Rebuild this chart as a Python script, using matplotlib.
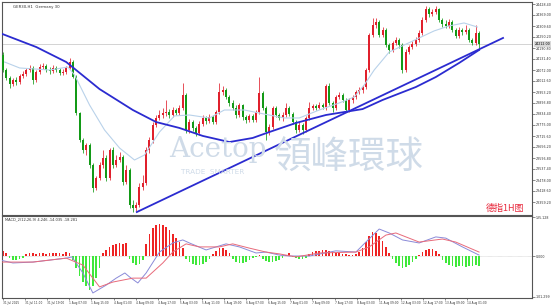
import numpy as np
import matplotlib.pyplot as plt

# GER30 H1 candles (index = bar number)
first_open = 24153
closes = [24072, 24029, 23996, 24018, 24007, 24040, 24050, 24072, 24083, 24018,
          24061, 24088, 24094, 24072, 24067, 24083, 24072, 24056, 24061, 24083,
          24115, 24034, 23840, 23694, 23640, 23667, 23559, 23435, 23489, 23559,
          23597, 23489, 23640, 23559, 23586, 23602, 23467, 23532, 23343, 23327,
          23343, 23440, 23462, 23640, 23694, 23775, 23813, 23829, 23840, 23845,
          23829, 23856, 23840, 23867, 23937, 23748, 23791, 23759, 23732, 23780,
          23813, 23797, 23818, 23791, 23845, 23953, 23964, 23926, 23894, 23867,
          23829, 23883, 23818, 23802, 23824, 23802, 23845, 23948, 23867, 23737,
          23764, 23867, 23829, 23813, 23829, 23867, 23834, 23791, 23748, 23775,
          23748, 23813, 23867, 23878, 23867, 23883, 23872, 23986, 23894, 23867,
          23926, 23937, 23910, 23856, 23910, 23926, 23953, 23964, 23980, 24072,
          24261, 24315, 24331, 24261, 24288, 24207, 24180, 24218, 24234, 24207,
          24072, 24169, 24196, 24212, 24234, 24272, 24342, 24401, 24374, 24385,
          24401, 24342, 24320, 24310, 24331, 24288, 24256, 24288, 24277, 24288,
          24234, 24218, 24272, 24212]
highs = [24169, 24083, 24040, 24029, 24034, 24050, 24067, 24083, 24099, 24094,
         24072, 24104, 24110, 24104, 24088, 24099, 24094, 24083, 24077, 24094,
         24137, 24126, 24045, 23845, 23705, 23678, 23678, 23570, 23500, 23575,
         23640, 23613, 23651, 23656, 23613, 23629, 23613, 23559, 23543, 23370,
         23359, 23462, 23505, 23656, 23710, 23791, 23829, 23856, 23867, 23910,
         23861, 23872, 23867, 23883, 24002, 23948, 23807, 23802, 23770, 23797,
         23829, 23824, 23834, 23829, 23856, 24002, 23986, 23975, 23937, 23910,
         23883, 23894, 23888, 23829, 23834, 23834, 23856, 24034, 23959, 23878,
         23780, 23878, 23878, 23840, 23845, 23894, 23878, 23845, 23802, 23791,
         23786, 23824, 23899, 23888, 23888, 23899, 23894, 23996, 24002, 23905,
         23937, 23953, 23948, 23921, 23921, 23937, 23964, 23980, 23991, 24083,
         24272, 24353, 24353, 24342, 24304, 24299, 24218, 24229, 24250, 24245,
         24218, 24185, 24207, 24229, 24250, 24288, 24358, 24418, 24412, 24401,
         24418, 24407, 24353, 24342, 24347, 24342, 24299, 24304, 24299, 24315,
         24299, 24245, 24315, 24283]
lows = [24061, 24018, 23975, 23986, 23991, 23996, 24029, 24040, 24061, 23996,
        24007, 24050, 24077, 24061, 24050, 24056, 24061, 24045, 24045, 24050,
        24077, 24029, 23829, 23683, 23624, 23613, 23543, 23413, 23424, 23478,
        23543, 23473, 23478, 23543, 23548, 23575, 23451, 23456, 23327, 23305,
        23311, 23332, 23424, 23451, 23624, 23678, 23764, 23802, 23813, 23824,
        23813, 23818, 23829, 23829, 23856, 23732, 23732, 23743, 23716, 23721,
        23770, 23780, 23786, 23780, 23780, 23834, 23937, 23915, 23878, 23856,
        23813, 23818, 23802, 23786, 23791, 23791, 23791, 23834, 23856, 23694,
        23721, 23753, 23818, 23802, 23797, 23818, 23824, 23780, 23732, 23737,
        23726, 23737, 23802, 23856, 23856, 23861, 23861, 23856, 23883, 23845,
        23856, 23915, 23899, 23845, 23845, 23894, 23915, 23942, 23948, 23969,
        24061, 24250, 24299, 24250, 24250, 24196, 24164, 24169, 24207, 24191,
        24056, 24061, 24158, 24185, 24202, 24223, 24261, 24331, 24358, 24364,
        24374, 24331, 24304, 24299, 24299, 24277, 24245, 24245, 24261, 24266,
        24223, 24207, 24207, 24180]

# moving averages (bar index, price)
ma_slow_idx = [-1, 10, 19, 29, 39, 46, 53, 60, 68, 75, 80, 88, 97, 108, 114, 124, 130, 137, 143]
ma_slow_val = [24272, 24196, 24115, 23969, 23856, 23791, 23759, 23716, 23683, 23705,
               23737, 23786, 23829, 23861, 23910, 23980, 24034, 24110, 24180]
ma_fast_idx = [0.5, 5, 14, 19.5, 21.5, 26, 30.5, 35, 39.5, 42.5, 47, 51.5, 56, 62, 66.5,
               72.5, 78.5, 84.5, 89, 95, 101, 105.5, 108.5, 111.5, 116, 120.5, 125, 129.5,
               134, 138.5, 142.5]
ma_fast_val = [24115, 24083, 24072, 24088, 24045, 23883, 23748, 23651, 23586, 23613, 23737,
               23824, 23829, 23813, 23856, 23856, 23834, 23813, 23813, 23856, 23894, 23926,
               23991, 24072, 24169, 24207, 24245, 24283, 24310, 24326, 24304]

# trend line
trend_idx = [40.2, 150.2]
trend_val = [23305, 24245]

# MACD panel
macd_hist = [16, 10, -7, -13, -13, -10, -7, 7, 10, 10,
             7, 10, 10, 7, 10, 10, 10, 10, 7, 13,
             10, -13, -40, -66, -86, -99, -112, -99, -73, -40,
             10, 20, 30, 36, 40, 43, 40, 43, -10, -23,
             -30, -26, -13, 40, 73, 92, 102, 106, 102, 96,
             86, 73, 59, 46, 26, -10, -20, -26, -30, -30,
             -26, -20, -10, 7, 16, 26, 26, 20, 10, -10,
             -20, -23, -23, -20, -13, -7, -3, 3, -10, -16,
             -20, -20, -16, -13, -7, 3, 10, -3, -7, -10,
             -10, -7, 7, 13, 16, 16, 20, 20, 16, 13,
             10, 10, 7, 7, 3, 3, 7, 13, 26, 46,
             66, 79, 76, 66, 50, 30, 10, -10, -23, -33,
             -40, -36, -30, -20, -10, 3, 13, 20, 23, 23,
             16, 7, -13, -23, -30, -33, -36, -33, -33, -36,
             -33, -33, -30, -33]
macd_idx = [-1, 3, 9, 19, 20.7, 24, 27, 31, 34, 36.6, 38, 40.5, 43, 47, 51, 54, 56, 61,
            67, 71, 76, 79, 83, 86, 92, 100, 106, 109, 113, 116, 120, 125, 130, 133, 138, 143]
macd_val = [-13, -23, -20, -7, -3, -56, -122, -96, -73, -56, -69, -89, -56, 13, 43, 53, 43,
            20, 40, 30, 10, 13, 3, 0, 0, 17, 13, 46, 89, 76, 53, 43, 63, 59, 30, 3]
signal_idx = [-1, 9, 19, 24, 29, 33, 39, 43, 48, 51, 55, 59, 65, 69, 74, 79, 83, 88, 95,
              106, 110, 115, 118, 125, 132, 136, 143]
signal_val = [-20, -20, -7, -30, -102, -86, -73, -73, -23, 13, 40, 30, 30, 40, 26, 13, 7,
              -3, 10, 13, 30, 69, 76, 46, 56, 46, 13]

price_ticks = [24428.40, 24369.00, 24309.60, 24250.20, 24190.80, 24131.40, 24072.00,
               24012.60, 23953.20, 23893.80, 23834.40, 23775.00, 23715.60, 23656.20,
               23596.80, 23537.40, 23478.00, 23418.60, 23359.20]
macd_tick_labels = ['135.128', '0.000', '-101.299']
time_labels = ['31 Jul 2025', '31 Jul 11:00', '31 Jul 19:00', '1 Aug 07:00', '1 Aug 15:00',
               '4 Aug 01:00', '4 Aug 09:00', '4 Aug 17:00', '5 Aug 03:00', '5 Aug 11:00',
               '5 Aug 19:00', '6 Aug 07:00', '6 Aug 15:00', '7 Aug 01:00', '7 Aug 09:00',
               '7 Aug 17:00', '8 Aug 03:00', '11 Aug 09:00', '12 Aug 03:00', '12 Aug 17:00',
               '13 Aug 09:00', '14 Aug 01:00']

UP = '#e0202c'
DOWN = '#139a17'
W, H = 553, 308

fig = plt.figure(figsize=(W / 100, H / 100), dpi=100)
ax = fig.add_axes([2 / W, 1 - 215 / H, 530 / W, 213 / H])
ax2 = fig.add_axes([2 / W, 1 - 298 / H, 530 / W, 82 / H], sharex=ax)

# watermark
wm = '#cfdbe8'
fig.text(218 / W, 1 - 149 / H, 'Acetop', fontsize=20, family='DejaVu Serif',
         color=wm, ha='center', va='center', zorder=0)
fig.text(213 / W, 1 - 172 / H, 'TRADE  SMARTER', fontsize=5.2, color=wm,
         ha='center', va='center', zorder=0)
fig.text(349 / W, 1 - 157 / H, '領峰環球', fontsize=27, family='Noto Sans CJK TC',
         color=wm, ha='center', va='center', zorder=0)
ax.patch.set_alpha(0)

o = np.array([first_open] + closes[:-1])
c = np.array(closes)
x = np.arange(len(c))
cols = np.where(c >= o, UP, DOWN)
ax.vlines(x, lows, highs, colors=cols, lw=0.55, zorder=3)
ax.bar(x, np.maximum(np.abs(c - o), 2), bottom=np.minimum(o, c), width=0.6,
       color=cols, lw=0, zorder=4)

ax.plot(ma_fast_idx, ma_fast_val, color='#b9d2ea', lw=0.8, zorder=5)
ax.plot(ma_slow_idx, ma_slow_val, color='#2b2bd0', lw=1.3, zorder=6)
ax.plot(trend_idx, trend_val, color='#2b2bd0', lw=1.3, zorder=6)
ax.axhline(closes[-1], color='#cccccc', lw=0.6, zorder=1)

ax.set_xlim(-0.3, 158.9)
ax.set_ylim(23289, 24439.2)
ax.yaxis.tick_right()
ax.set_yticks(price_ticks)
ax.set_yticklabels(['%.2f' % v for v in price_ticks])
ax.tick_params(axis='y', labelsize=2.3, length=2, width=0.4, pad=1, colors='#333333')
ax.tick_params(axis='x', bottom=False, labelbottom=False)
ax.annotate('%.2f' % closes[-1], xy=(1.0, closes[-1]), xycoords=('axes fraction', 'data'),
            xytext=(2.2, 0), textcoords='offset points', fontsize=2.3, va='center',
            bbox=dict(boxstyle='square,pad=0.2', fc='#d9d9d9', ec='none'))
ax.text(0.985, 0.012, '德指1H图', transform=ax.transAxes, ha='right', va='bottom',
        fontsize=6.5, color='#e8283c', family=['Noto Sans CJK SC', 'DejaVu Sans'])
ax.text(0.02, 0.985, 'GER30,H1  Germany 30', transform=ax.transAxes, fontsize=2.8,
        va='top', color='#333333')

hcols = np.where(np.array(macd_hist) >= 0, '#ee2424', '#3fe83a')
ax2.bar(x, macd_hist, width=0.5, color=hcols, lw=0, zorder=2)
ax2.plot(macd_idx, macd_val, color='#8a8ad8', lw=0.7, zorder=3)
ax2.plot(signal_idx, signal_val, color='#e86a7a', lw=0.7, zorder=3)
ax2.axhline(0, color='#bbbbbb', lw=0.4, ls=(0, (1, 1)), zorder=1)
ax2.set_ylim(-138.6, 132)
ax2.yaxis.tick_right()
ax2.set_yticks([128, 0, -135])
ax2.set_yticklabels(macd_tick_labels)
ax2.tick_params(axis='y', labelsize=2.3, length=2, width=0.4, pad=1, colors='#333333')
ax2.set_xticks(np.arange(len(time_labels)) * 6.64)
ax2.set_xticklabels(time_labels, ha='left')
ax2.tick_params(axis='x', labelsize=2.1, length=1.5, width=0.4, pad=1, colors='#333333')
ax2.text(0.005, 0.98, 'MACD_2(12,26,9) 4.246 -14.035 -18.281', transform=ax2.transAxes,
         fontsize=2.6, va='top', color='#333333')

for a in (ax, ax2):
    for s in a.spines.values():
        s.set_color('#555555')
        s.set_linewidth(0.8)

fig.savefig('out.png', dpi=100)
